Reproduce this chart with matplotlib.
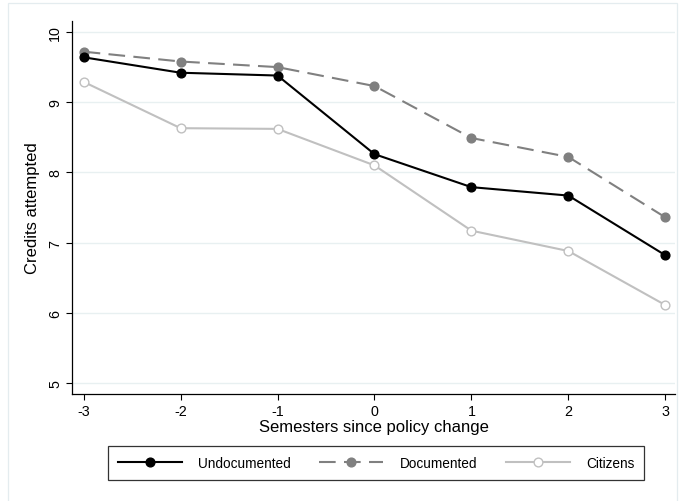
import matplotlib
matplotlib.use("Agg")
import matplotlib.pyplot as plt
from matplotlib.patches import Rectangle

plt.rcParams['font.family'] = ['Liberation Sans', 'DejaVu Sans']

semesters = [-3, -2, -1, 0, 1, 2, 3]
undocumented = [9.64, 9.42, 9.38, 8.26, 7.79, 7.67, 6.82]
documented = [9.72, 9.58, 9.50, 9.23, 8.49, 8.22, 7.36]
citizens = [9.29, 8.63, 8.62, 8.10, 7.17, 6.88, 6.11]
xticks = [-3, -2, -1, 0, 1, 2, 3]
yticks = [5, 6, 7, 8, 9, 10]

W, H = 681, 502
fig = plt.figure(figsize=(W / 100, H / 100), dpi=100)
fig.patch.set_facecolor('white')

# outer graph region border
fig.patches.append(Rectangle((8 / W, -0.01), (677 - 8) / W, 1 - 4 / H + 0.01,
                             transform=fig.transFigure, fill=False,
                             edgecolor='#e4ecef', lw=0.9))

left, right, top, bottom = 72, 675, 22, 395
ax = fig.add_axes([left / W, 1 - bottom / H, (right - left) / W, (bottom - top) / H])

ax.plot(semesters, undocumented, color='black', lw=1.5, marker='o', ms=6.3,
        mfc='black', mec='black', label='Undocumented', zorder=4)
ax.plot(semesters, documented, color='#808080', lw=1.5, marker='o', ms=6.3,
        mfc='#808080', mec='#808080', dashes=(8, 4), label='Documented', zorder=3)
ax.plot(semesters, citizens, color='#c0c0c0', lw=1.5, marker='o', ms=6.3,
        mfc='white', mec='#c0c0c0', mew=1.0, label='Citizens', zorder=2)

ax.set_xlim(-3.12, 3.1)
ax.set_ylim(4.843, 10.157)
ax.set_xticks(xticks)
ax.set_xticklabels([str(t) for t in xticks])
ax.set_yticks(yticks)
ax.set_yticklabels([str(t) for t in yticks], rotation=90, va='center')
ax.tick_params(axis='both', direction='out', length=4, width=0.8, labelsize=10.3,
               color='black', pad=3)
ax.grid(axis='y', color='#e8f0f1', lw=1.0)
ax.set_axisbelow(True)
for s in ['top', 'right']:
    ax.spines[s].set_visible(False)
for s in ['left', 'bottom']:
    ax.spines[s].set_linewidth(0.9)
    ax.spines[s].set_color('black')

ax.set_xlabel('Semesters since policy change', fontsize=12, labelpad=1)
ax.set_ylabel('Credits attempted', fontsize=12, labelpad=6)

leg = fig.legend(loc='center', bbox_to_anchor=(376 / W, 1 - 464 / H), ncol=3,
                 frameon=True, fancybox=False, fontsize=9.8, handlelength=4.7,
                 handletextpad=1.2, columnspacing=2.1, borderpad=0.7,
                 edgecolor='black')
leg.get_frame().set_linewidth(0.9)

fig.savefig('out.png', dpi=100)
